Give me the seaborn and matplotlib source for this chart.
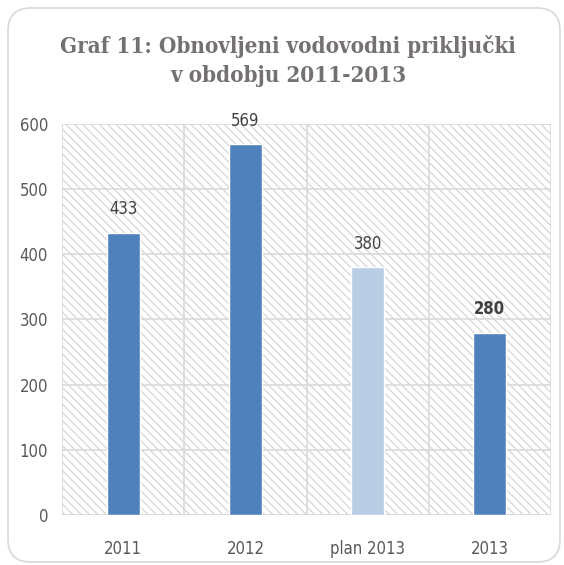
import matplotlib
matplotlib.use("Agg")
import matplotlib.pyplot as plt
import seaborn as sns
import pandas as pd
from matplotlib.patches import Rectangle, FancyBboxPatch
from matplotlib.ticker import MultipleLocator

categories = ["2011", "2012", "plan 2013", "2013"]
values = [433, 569, 380, 280]
bar_colors = ["#4F81BD", "#4F81BD", "#B9CDE5", "#4F81BD"]
bold_labels = [False, False, False, True]
title = "Graf 11: Obnovljeni vodovodni priključki\nv obdobju 2011-2013"

sns.set_theme(style="white")
plt.rcParams['font.family'] = ['DejaVu Sans']
plt.rcParams['font.stretch'] = 'condensed'
plt.rcParams['hatch.linewidth'] = 0.9
plt.rcParams['hatch.color'] = '#d6d6d6'

df = pd.DataFrame({"cat": categories, "val": values})

fig = plt.figure(figsize=(5.64, 5.65), dpi=100)
fig.patch.set_facecolor("white")
border = FancyBboxPatch((8/564, 3/565), 552/564, 554/565, boxstyle="round,pad=0,rounding_size=0.04",
                        transform=fig.transFigure, facecolor="none", edgecolor="#d9d9d9",
                        linewidth=1.2, zorder=-5)
fig.patches.append(border)

ax = fig.add_axes([62/564, 1-515/565, (551-62)/564, (515-124)/565])
ax.set_facecolor("none")
ax.add_patch(Rectangle((0, 0), 1, 1, transform=ax.transAxes, facecolor="white",
                       edgecolor="#d6d6d6", hatch="\\\\\\\\", linewidth=0, zorder=0))

sns.barplot(data=df, x="cat", y="val", hue="cat", palette=bar_colors, legend=False,
            width=0.27, ax=ax, zorder=3, saturation=1)

ax.set_ylim(0, 600)
ax.set_xlim(-0.5, 3.5)
ax.yaxis.set_major_locator(MultipleLocator(100))
ax.grid(axis="y", which="major", color="#d9d9d9", linewidth=1.2, zorder=1)
for xb in [-0.5, 0.5, 1.5, 2.5, 3.5]:
    ax.axvline(xb, color="#d9d9d9", linewidth=1.2, zorder=1)
ax.set_axisbelow(True)
for s in ax.spines.values():
    s.set_visible(False)
ax.axhline(0, color="#d9d9d9", linewidth=1.2, zorder=2)

ax.set_xlabel("")
ax.set_ylabel("")
ax.tick_params(axis="both", length=0, labelsize=12, labelcolor="#595959")
ax.tick_params(axis="x", pad=18)
ax.tick_params(axis="y", pad=10)

for i, (v, b) in enumerate(zip(values, bold_labels)):
    ax.text(i, v + 22, str(v), ha="center", va="bottom", fontsize=12,
            color="#404040", fontweight="bold" if b else "normal")

fig.text(288/564, 1 - 61/565, title, ha="center", va="center", fontsize=16,
         fontweight="bold", color="#767171", linespacing=1.45,
         family="DejaVu Serif", fontstretch="condensed")

fig.savefig("out.png", dpi=100)
